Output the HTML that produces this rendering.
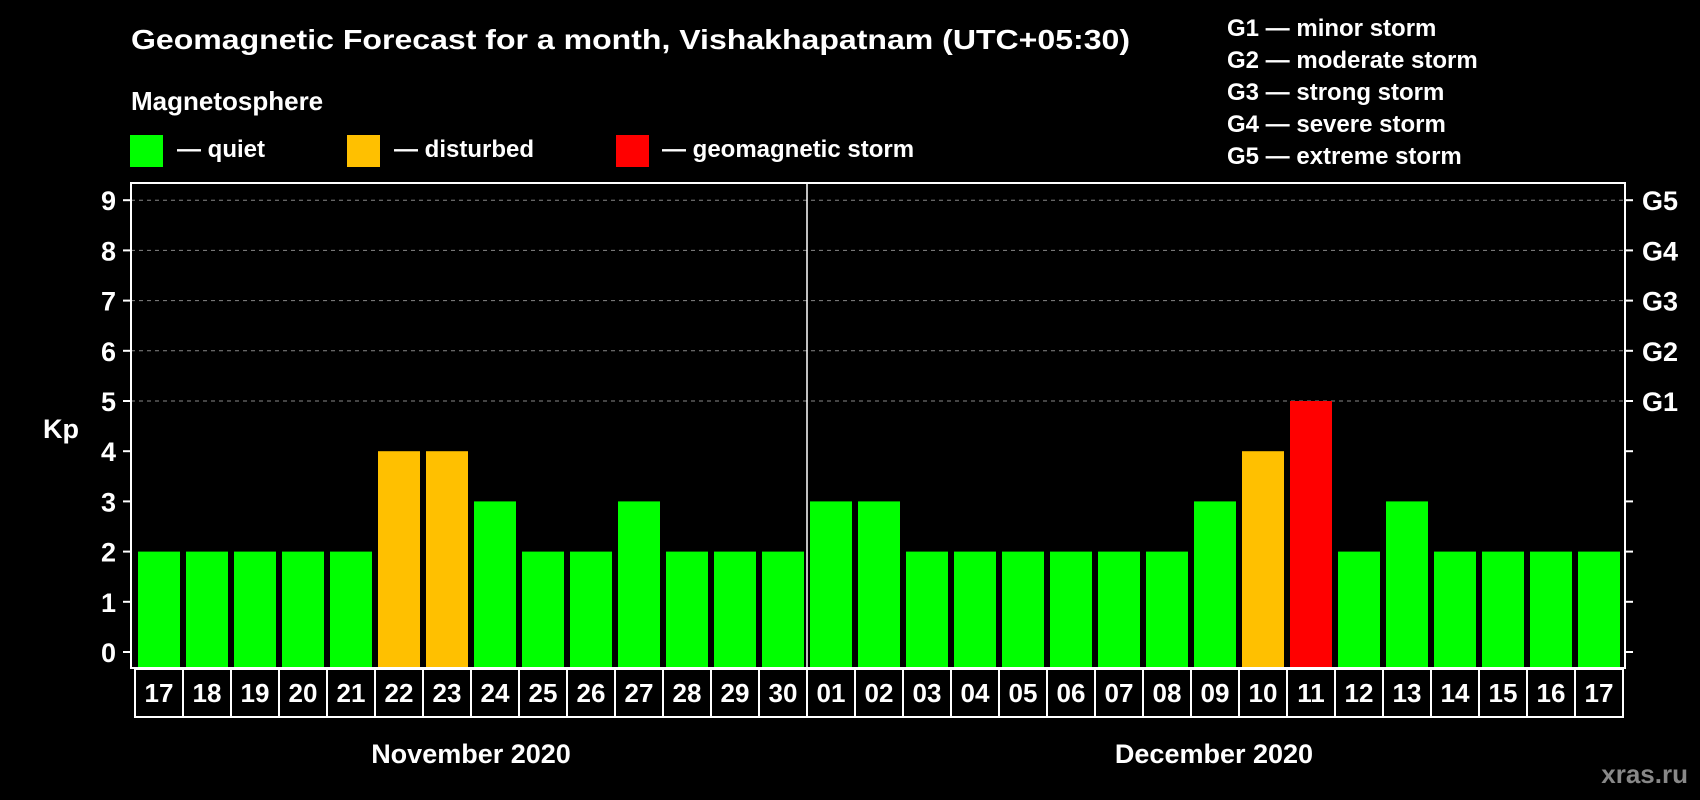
<!DOCTYPE html>
<html><head><meta charset="utf-8"><style>
html,body{margin:0;padding:0;background:#000;}
svg{display:block;font-family:"Liberation Sans",Arial,sans-serif;font-weight:bold;}
</style></head><body>
<svg id="chart" width="1700" height="800" viewBox="0 0 1700 800" xmlns="http://www.w3.org/2000/svg">
<rect x="0" y="0" width="1700" height="800" fill="#000"/>
<text x="131" y="49" fill="#fff" font-size="28" textLength="999" lengthAdjust="spacingAndGlyphs">Geomagnetic Forecast for a month, Vishakhapatnam (UTC+05:30)</text>
<text x="131" y="110" fill="#fff" font-size="26">Magnetosphere</text>
<g>
<rect x="130" y="135" width="33" height="32" fill="#00ff00"/>
<text x="177" y="157" fill="#fff" font-size="24">— quiet</text></g>
<g>
<rect x="347" y="135" width="33" height="32" fill="#ffc000"/>
<text x="394" y="157" fill="#fff" font-size="24">— disturbed</text></g>
<g>
<rect x="616" y="135" width="33" height="32" fill="#ff0000"/>
<text x="662" y="157" fill="#fff" font-size="24">— geomagnetic storm</text></g>
<g fill="#fff" font-size="24">
<text x="1227" y="36">G1 — minor storm</text>
<text x="1227" y="68">G2 — moderate storm</text>
<text x="1227" y="100">G3 — strong storm</text>
<text x="1227" y="132">G4 — severe storm</text>
<text x="1227" y="164">G5 — extreme storm</text>
</g>
<text x="43" y="438" fill="#fff" font-size="27">Kp</text>
<g id="plot"></g>
<text x="471" y="763" fill="#fff" font-size="27" text-anchor="middle">November 2020</text>
<text x="1214" y="763" fill="#fff" font-size="27" text-anchor="middle">December 2020</text>
<text x="1688" y="783" fill="#888" font-size="26" text-anchor="end">xras.ru</text>
</svg>
<script>
const days = ["17","18","19","20","21","22","23","24","25","26","27","28","29","30","01","02","03","04","05","06","07","08","09","10","11","12","13","14","15","16","17"];
const kpValues = [2,2,2,2,2,4,4,3,2,2,3,2,2,2,3,3,2,2,2,2,2,2,3,4,5,2,3,2,2,2,2];
const yTicks = [0,1,2,3,4,5,6,7,8,9];
const gLabels = ["G1","G2","G3","G4","G5"];
const gLevels = [5,6,7,8,9];
const monthBreakIndex = 14;

const NS = "http://www.w3.org/2000/svg";
const plot = document.getElementById('plot');
const L = 131, R = 1625, T = 183, B = 668;
const y0 = 652, unit = 50.2;
const pitch = 48, barW = 42, x0 = 138;
function yScale(v){ return y0 - v*unit; }
function xScale(i){ return x0 + i*pitch; }
function mk(tag, attrs){ const e = document.createElementNS(NS, tag); for (const k in attrs) e.setAttribute(k, attrs[k]); plot.appendChild(e); return e; }
function color(v){ return v >= 5 ? "#ff0000" : (v >= 4 ? "#ffc000" : "#00ff00"); }

gLevels.forEach((lv, i) => {
  const y = yScale(lv);
  const g = mk('line', {x1: L, x2: R, y1: y, y2: y, stroke: "#888", "stroke-width": 1, "stroke-dasharray": "4,4"});
  
  
  const t = mk('text', {x: 1642, y: y + 10, fill: "#fff", "font-size": 27});
  t.textContent = gLabels[i];
  
  
});

kpValues.forEach((v, i) => {
  const r = mk('rect', {x: xScale(i), y: yScale(v), width: barW, height: B - yScale(v), fill: color(v)});
  
  
});

const frame = mk('rect', {x: L, y: T, width: R - L, height: B - T, fill: "none", stroke: "#fff", "stroke-width": 2});



const sep = mk('line', {x1: xScale(monthBreakIndex) - 3, x2: xScale(monthBreakIndex) - 3, y1: T, y2: B, stroke: "#fff", "stroke-width": 1.5});



yTicks.forEach(v => {
  const y = yScale(v);
  const a = mk('line', {x1: 123, x2: L, y1: y, y2: y, stroke: "#fff", "stroke-width": 2});
  
  
  const b = mk('line', {x1: R, x2: 1633, y1: y, y2: y, stroke: "#fff", "stroke-width": 2});
  
  
  const t = mk('text', {x: 116, y: y + 10, fill: "#fff", "font-size": 27, "text-anchor": "end"});
  t.textContent = v;
  
  
});

days.forEach((d, i) => {
  const cx = 135 + i*pitch;
  const c = mk('rect', {x: cx, y: 669, width: pitch, height: 48, fill: "#000", stroke: "#fff", "stroke-width": 2});
  
  
  const t = mk('text', {x: cx + pitch/2, y: 702, fill: "#fff", "font-size": 26, "text-anchor": "middle"});
  t.textContent = d;
  
  
});
</script>
</body></html>
